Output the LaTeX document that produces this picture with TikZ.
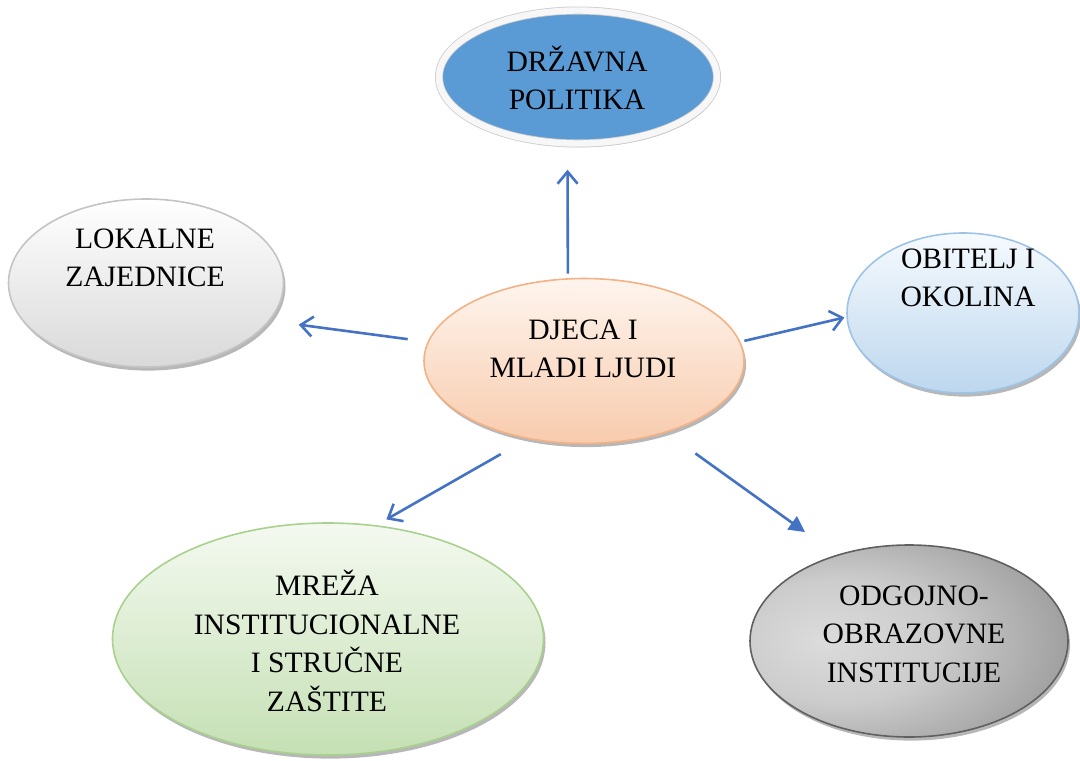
\documentclass[tikz,border=0pt]{standalone}
\usepackage{fontspec}
\setmainfont{Liberation Serif}
\usetikzlibrary{shapes.geometric,arrows.meta,shadows}
\definecolor{arrowblue}{RGB}{68,114,196}
\definecolor{drzblue}{RGB}{91,155,213}
\definecolor{lokgrey}{RGB}{217,217,217}
\definecolor{lokline}{RGB}{196,196,196}
\definecolor{obitop}{RGB}{246,250,254}
\definecolor{obibot}{RGB}{189,215,238}
\definecolor{obiline}{RGB}{157,195,230}
\definecolor{djetop}{RGB}{254,245,238}
\definecolor{djebot}{RGB}{248,203,173}
\definecolor{djeline}{RGB}{244,177,131}
\definecolor{mretop}{RGB}{244,249,240}
\definecolor{mrebot}{RGB}{197,224,180}
\definecolor{mreline}{RGB}{169,209,142}
\definecolor{odgline}{RGB}{96,96,96}
\pgfdeclareradialshading{odgshade}{\pgfpoint{-14bp}{0bp}}{rgb(0bp)=(0.86,0.86,0.86);rgb(16bp)=(0.80,0.80,0.80);rgb(50bp)=(0.46,0.46,0.46);rgb(80bp)=(0.40,0.40,0.40)}
\begin{document}
\begin{tikzpicture}[x=0.5pt,y=-0.5pt,
  bubble/.style={ellipse, inner sep=0pt, line width=0.8pt,
    drop shadow={shadow xshift=1pt, shadow yshift=-1.8pt, opacity=0.4, fill=black!70}},
  lbl/.style={align=center, inner sep=0pt, font=\fontsize{14.8}{19.2}\selectfont},
  conn/.style={draw=arrowblue, line width=1.3pt, -{Straight Barb[length=6pt,width=10pt]}},
  connfill/.style={draw=arrowblue, line width=1.3pt, -{Triangle[length=8pt,width=8pt]}, arrowblue}]
\useasboundingbox (0,0) rectangle (1080,760);
% ellipses
\node[bubble, minimum width=139pt, minimum height=66.5pt, fill=drzblue,
  draw=gray!40, double=gray!6, double distance=3.2pt, line width=0.4pt] (drz) at (578,77) {};
\node[bubble, minimum width=137.5pt, minimum height=84pt, top color=white,
  bottom color=lokgrey, draw=lokline] (lok) at (146,283) {};
\node[bubble, minimum width=116pt, minimum height=80pt, top color=obitop,
  bottom color=obibot, draw=obiline] (obi) at (963,313) {};
\node[bubble, minimum width=160pt, minimum height=82.5pt, top color=djetop,
  bottom color=djebot, draw=djeline] (djeca) at (584,361) {};
\node[bubble, minimum width=215.5pt, minimum height=116pt, top color=mretop,
  bottom color=mrebot, draw=mreline] (mreza) at (328,639) {};
\node[bubble, minimum width=159pt, minimum height=96pt, shading=odgshade,
  draw=odgline] (odg) at (909,641) {};
% texts
\node[lbl] (drz-t) at (577,78) {DRŽAVNA\\POLITIKA};
\node[lbl] (lok-t) at (145,258) {LOKALNE\\ZAJEDNICE};
\node[lbl] (obi-t) at (968,278) {OBITELJ I\\OKOLINA};
\node[lbl] (djeca-t) at (583,349) {DJECA I\\MLADI LJUDI};
\node[lbl] (mreza-t) at (327,641) {MREŽA\\INSTITUCIONALNE\\I STRUČNE\\ZAŠTITE};
\node[lbl] (odg-t) at (914,634) {ODGOJNO-\\OBRAZOVNE\\INSTITUCIJE};
% arrows
\draw[conn, shorten <=2.2pt, shorten >=13pt] (djeca.101.8) -- (drz.-99.4);
\draw[conn, shorten <=10pt, shorten >=14.6pt] (djeca.173.4) -- (lok.-17.2);
\draw[conn, shorten <=2pt, shorten >=1pt] (djeca.7.35) -- (obi.-178.3);
\draw[conn, shorten <=15.3pt, shorten >=5.8pt] (djeca.-126.9) -- (mreza.67.4);
\draw[connfill, shorten <=17.9pt, shorten >=19.4pt] (djeca.-41.7) -- (odg.130.3);
\end{tikzpicture}
\end{document}
